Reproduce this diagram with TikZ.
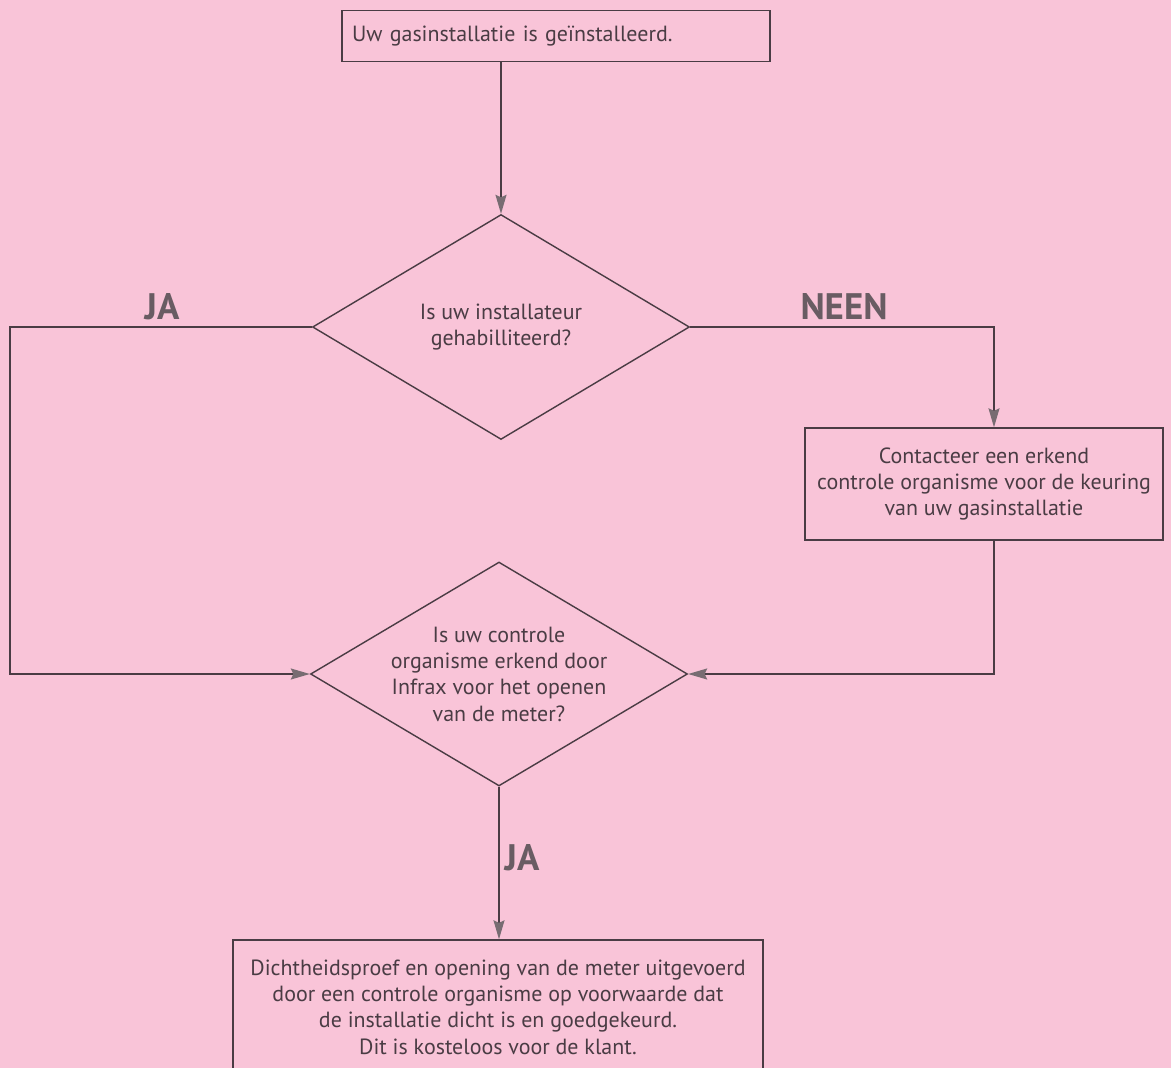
\documentclass[tikz,border=0pt]{standalone}
\usepackage{fontspec}
\setmainfont{PT Sans}
\usetikzlibrary{shapes,arrows.meta,positioning,calc}
\definecolor{pagepink}{RGB}{249,196,216}
\definecolor{inkgray}{RGB}{74,60,68}
\definecolor{tipgray}{RGB}{120,108,114}
\definecolor{labelgray}{RGB}{105,92,99}

\begin{document}
\begin{tikzpicture}[
			x = 0.02cm,
			y = -0.02cm,
			every node/.style = {text=inkgray, font=\fontsize{12.5}{15}\selectfont},
			box/.style = {draw=inkgray, rectangle, line width=0.8pt, align=center, inner sep=0pt},
			question/.style = {draw=inkgray, diamond, shape aspect=1.68, line width=0.8pt, align=center, inner sep=0pt,
				minimum width=7.54cm, minimum height=4.5cm},
			flow/.style = {draw=inkgray, line width=0.8pt,
				-{Stealth[length=0.38cm, width=0.22cm, inset=0.05cm, color=tipgray, fill=tipgray]}},
			answer/.style = {text=labelgray, font=\fontsize{21}{21}\selectfont\bfseries},
		]

		\clip (0,0) rectangle (1171,1068);
		\fill[pagepink] (0,0) rectangle (1171,1068);

		\node[box, minimum width=8.56cm, minimum height=1.02cm, text width=8.16cm, align=left] (start) at (556,36) {Uw gasinstallatie is geïnstalleerd.};
		\node[question] (q1) at (501,327) {Is uw installateur\\gehabilliteerd?};
		\node[box, minimum width=7.16cm, minimum height=2.24cm] (contact) at (984,484) {Contacteer een erkend\\controle organisme voor de keuring\\van uw gasinstallatie};
		\node[question, minimum height=4.48cm] (q2) at (499,674) {Is uw controle\\organisme erkend door\\Infrax voor het openen\\van de meter?};
		\node[box, minimum width=10.6cm, minimum height=2.68cm] (result) at (498,1007) {Dichtheidsproef en opening van de meter uitgevoerd\\door een controle organisme op voorwaarde dat\\de installatie dicht is en goedgekeurd.\\Dit is kosteloos voor de klant.};

		\coordinate (jabend) at (10,327);

		\draw[flow] (start.south -| q1.north) -- (q1.north);
		\draw[flow] (q1.west) -- (jabend) |- (q2.west);
		\draw[flow] (q1.east) -| ([xshift=0.2cm]contact.north);
		\draw[flow] ([xshift=0.2cm]contact.south) |- (q2.east);
		\draw[flow] (q2.south) -- (q2.south |- result.north);

		\node[answer] (jaleft) at (162,307) {JA};
		\node[answer] (neen) at (844,307) {NEEN};
		\node[answer] (jadown) at (522,858) {JA};

		\end{tikzpicture}
\end{document}
